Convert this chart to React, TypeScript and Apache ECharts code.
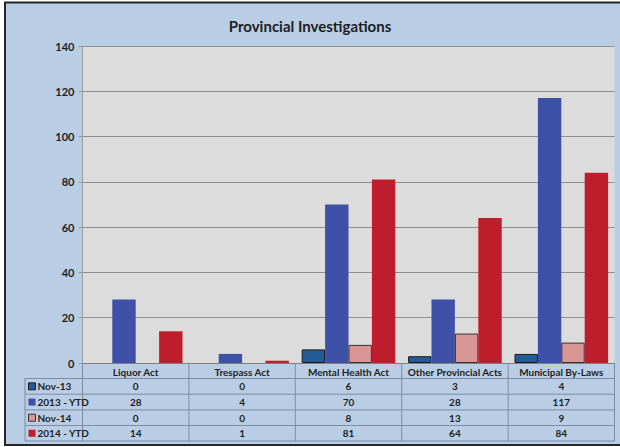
import React, { useEffect, useRef } from "react";
import * as echarts from "echarts";

const categories = ["Liquor Act", "Trespass Act", "Mental Health Act", "Other Provincial Acts", "Municipal By-Laws"];
const seriesNames = ["Nov-13", "2013 - YTD", "Nov-14", "2014 - YTD"];
const nov13 = [0, 0, 6, 3, 4];
const ytd2013 = [28, 4, 70, 28, 117];
const nov14 = [0, 0, 8, 13, 9];
const ytd2014 = [14, 1, 81, 64, 84];
const yTicks = [0, 20, 40, 60, 80, 100, 120, 140];

const FONT = "Lato";
const colors = ["#235B97", "#3F51A7", "#DA9695", "#BE1E2B"];
const borders = ["#1b1b1b", "#3F51A7", "#333333", "#BE1E2B"];
const borderW = [1, 0, 1, 0];

export default function App() {
  const ref = useRef<HTMLDivElement>(null);
  useEffect(() => {
    if (!ref.current) return;
    const chart = echarts.init(ref.current, undefined, { renderer: "svg" });
    const values = [nov13, ytd2013, nov14, ytd2014];

    const W = 620;
    const gl = 82.5, gr = 614.5, gt = 46, gb = 363;
    const tableLeft = 25;
    const rowTops = [363, 378.5, 394.2, 409.9, 425.5, 441];
    const colW = (gr - gl) / categories.length;
    const lineColor = "#7D8CA3";
    const graphics: any[] = [];

    graphics.push({
      type: "rect", silent: true, z: -10,
      shape: { x: 5, y: 2.5, width: W + 10, height: 442.5 },
      style: { fill: "#B9CDE5", stroke: "#262626", lineWidth: 2 },
    });
    for (let r = 1; r < rowTops.length; r++) {
      graphics.push({
        type: "line", silent: true, z: 5,
        shape: { x1: tableLeft, y1: rowTops[r], x2: gr, y2: rowTops[r] },
        style: { stroke: lineColor, lineWidth: 1 },
      });
    }
    graphics.push({
      type: "line", silent: true, z: 5,
      shape: { x1: tableLeft, y1: rowTops[1], x2: tableLeft, y2: rowTops[5] },
      style: { stroke: lineColor, lineWidth: 1 },
    });
    for (let c = 0; c <= categories.length; c++) {
      const x = gl + c * colW;
      graphics.push({
        type: "line", silent: true, z: 5,
        shape: { x1: x, y1: rowTops[0], x2: x, y2: rowTops[5] },
        style: { stroke: lineColor, lineWidth: 1 },
      });
    }
    seriesNames.forEach((name, i) => {
      const yc = (rowTops[i + 1] + rowTops[i + 2]) / 2;
      graphics.push({
        type: "rect", silent: true, z: 6,
        shape: { x: 28.5, y: yc - 3.5, width: 7, height: 7 },
        style: { fill: colors[i], stroke: borderW[i] ? borders[i] : colors[i], lineWidth: borderW[i] ? 1 : 0 },
      });
      graphics.push({
        type: "text", silent: true, z: 6,
        style: {
          text: name, x: 37.5, y: yc, textAlign: "left", textVerticalAlign: "middle",
          fontFamily: FONT, fontWeight: "bold", fontSize: 10, fill: "#1e1e1e",
        },
      });
      values[i].forEach((v, c) => {
        graphics.push({
          type: "text", silent: true, z: 6,
          style: {
            text: String(v), x: gl + (c + 0.5) * colW, y: yc, textAlign: "center", textVerticalAlign: "middle",
            fontFamily: FONT, fontWeight: "bold", fontSize: 10, fill: "#1e1e1e",
          },
        });
      });
    });

    chart.setOption({
      animation: false,
      backgroundColor: "#ffffff",
      title: {
        text: "Provincial Investigations",
        left: "center",
        top: 13,
        textStyle: { fontFamily: FONT, fontWeight: "bold", fontSize: 15, color: "#1e1e1e" },
      },
      grid: { left: gl, right: W - gr, top: gt, bottom: 447 - gb, show: true, backgroundColor: "#DCDCDC", borderWidth: 0 },
      xAxis: {
        type: "category",
        data: categories,
        axisLine: { show: true, lineStyle: { color: "#7F7F7F", width: 1 } },
        axisTick: { show: false },
        axisLabel: {
          interval: 0, margin: 4, fontFamily: FONT, fontWeight: "bold", fontSize: 10, color: "#1e1e1e",
        },
      },
      yAxis: {
        type: "value",
        min: 0,
        max: yTicks[yTicks.length - 1],
        interval: yTicks[1] - yTicks[0],
        axisLine: { show: true, lineStyle: { color: "#9A9A9A" } },
        axisTick: { show: true, length: 4, lineStyle: { color: "#9A9A9A" } },
        axisLabel: { margin: 8, fontFamily: FONT, fontWeight: "bold", fontSize: 11, color: "#1e1e1e" },
        splitLine: { show: true, lineStyle: { color: "#8F8F8F", width: 1 } },
      },
      series: seriesNames.map((name, i) => ({
        name,
        type: "bar",
        data: values[i].map((v) => (v === 0 ? { value: v, itemStyle: { borderWidth: 0 } } : v)),
        barGap: "0%",
        barCategoryGap: "12%",
        itemStyle: { color: colors[i], borderColor: borders[i], borderWidth: borderW[i] },
      })),
      graphic: graphics,
    });
    return () => chart.dispose();
  }, []);
  return <div ref={ref} style={{ position: "fixed", left: 0, top: 0, width: 620, height: 447 }} />;
}
